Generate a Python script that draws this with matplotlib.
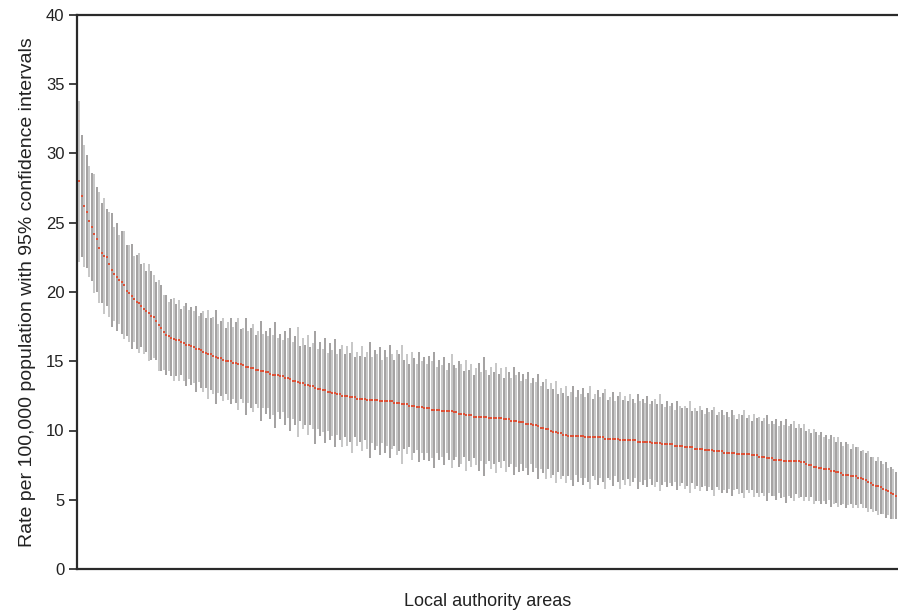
import matplotlib
matplotlib.use("Agg")
import matplotlib.pyplot as plt
import numpy as np

# rates per 100,000, local authorities sorted high -> low
rates = [
    28.0, 26.9, 26.2, 25.8, 25.1, 24.7, 24.2, 23.8, 23.2, 22.8,
    22.6, 22.5, 22.0, 21.6, 21.3, 21.1, 20.9, 20.7, 20.5, 20.1,
    19.9, 19.7, 19.5, 19.3, 19.2, 19.0, 18.8, 18.6, 18.5, 18.3,
    18.2, 17.9, 17.6, 17.4, 17.1, 16.9, 16.8, 16.7, 16.6, 16.5,
    16.5, 16.4, 16.3, 16.2, 16.2, 16.1, 16.0, 15.9, 15.9, 15.8,
    15.7, 15.6, 15.5, 15.5, 15.4, 15.3, 15.2, 15.2, 15.1, 15.0,
    15.0, 15.0, 14.9, 14.9, 14.8, 14.8, 14.7, 14.6, 14.6, 14.5,
    14.5, 14.4, 14.4, 14.3, 14.3, 14.2, 14.2, 14.1, 14.0, 14.0,
    14.0, 13.9, 13.9, 13.8, 13.8, 13.7, 13.6, 13.6, 13.5, 13.4,
    13.4, 13.3, 13.3, 13.2, 13.2, 13.1, 13.0, 13.0, 12.9, 12.9,
    12.8, 12.8, 12.7, 12.7, 12.6, 12.6, 12.5, 12.5, 12.5, 12.4,
    12.4, 12.4, 12.3, 12.3, 12.3, 12.3, 12.2, 12.2, 12.2, 12.2,
    12.2, 12.1, 12.1, 12.1, 12.1, 12.1, 12.1, 12.0, 12.0, 12.0,
    11.9, 11.9, 11.9, 11.8, 11.8, 11.8, 11.7, 11.7, 11.7, 11.6,
    11.6, 11.6, 11.5, 11.5, 11.5, 11.5, 11.4, 11.4, 11.4, 11.4,
    11.4, 11.3, 11.3, 11.2, 11.2, 11.2, 11.1, 11.1, 11.1, 11.0,
    11.0, 11.0, 11.0, 11.0, 11.0, 10.9, 10.9, 10.9, 10.9, 10.9,
    10.9, 10.8, 10.8, 10.8, 10.7, 10.7, 10.7, 10.6, 10.6, 10.6,
    10.5, 10.5, 10.5, 10.4, 10.4, 10.3, 10.2, 10.2, 10.1, 10.1,
    10.0, 9.9, 9.9, 9.8, 9.8, 9.7, 9.7, 9.6, 9.6, 9.6,
    9.6, 9.6, 9.6, 9.6, 9.5, 9.5, 9.5, 9.5, 9.5, 9.5,
    9.5, 9.5, 9.4, 9.4, 9.4, 9.4, 9.4, 9.4, 9.3, 9.3,
    9.3, 9.3, 9.3, 9.3, 9.3, 9.2, 9.2, 9.2, 9.2, 9.2,
    9.2, 9.1, 9.1, 9.1, 9.1, 9.0, 9.0, 9.0, 9.0, 9.0,
    8.9, 8.9, 8.9, 8.9, 8.8, 8.8, 8.8, 8.8, 8.7, 8.7,
    8.7, 8.7, 8.6, 8.6, 8.6, 8.6, 8.5, 8.5, 8.5, 8.5,
    8.4, 8.4, 8.4, 8.4, 8.4, 8.3, 8.3, 8.3, 8.3, 8.3,
    8.3, 8.2, 8.2, 8.2, 8.1, 8.1, 8.1, 8.0, 8.0, 8.0,
    7.9, 7.9, 7.9, 7.9, 7.8, 7.8, 7.8, 7.8, 7.8, 7.8,
    7.8, 7.7, 7.7, 7.6, 7.5, 7.5, 7.4, 7.4, 7.3, 7.3,
    7.2, 7.2, 7.2, 7.1, 7.1, 7.0, 7.0, 6.9, 6.8, 6.8,
    6.8, 6.7, 6.7, 6.7, 6.6, 6.6, 6.5, 6.4, 6.3, 6.2,
    6.1, 6.0, 6.0, 5.9, 5.8, 5.7, 5.6, 5.5, 5.4, 5.3,
]

# half width of the 95% confidence interval for each area
ci_half = [
    5.8, 4.4, 4.4, 4.1, 4.0, 3.9, 4.3, 3.8, 4.0, 3.6,
    4.2, 3.5, 3.8, 4.1, 3.4, 3.9, 3.2, 3.7, 3.9, 3.3,
    3.5, 3.8, 3.1, 3.4, 3.6, 3.0, 3.3, 2.9, 3.5, 3.2,
    3.0, 2.8, 3.3, 3.1, 2.7, 2.9, 2.5, 2.8, 3.0, 2.6,
    2.9, 2.4, 2.7, 3.0, 2.5, 2.8, 2.6, 3.1, 2.4, 2.7,
    2.9, 2.5, 3.2, 2.6, 2.8, 3.4, 2.5, 2.7, 3.0, 2.4,
    2.8, 3.1, 2.6, 2.9, 3.3, 2.5, 2.7, 3.5, 2.6, 2.9,
    3.2, 2.5, 2.8, 3.6, 2.7, 3.0, 2.6, 3.3, 2.9, 3.8,
    2.7, 3.1, 2.6, 3.4, 2.9, 3.7, 2.8, 3.2, 4.0, 2.7,
    3.3, 2.9, 3.6, 2.8, 3.1, 4.1, 2.9, 3.4, 3.0, 3.8,
    2.8, 3.5, 3.1, 3.9, 2.9, 3.3, 3.7, 3.0, 3.6, 3.2,
    4.0, 2.9, 3.4, 3.1, 3.8, 3.0, 3.5, 4.2, 3.1, 3.6,
    3.3, 3.9, 3.0, 3.7, 3.2, 4.1, 3.4, 3.1, 3.8, 3.5,
    4.3, 3.2, 3.6, 3.0, 3.9, 3.4, 3.1, 4.0, 3.3, 3.7,
    3.2, 3.8, 3.5, 4.2, 3.1, 3.6, 3.3, 3.9, 3.0, 3.5,
    4.1, 3.4, 3.2, 3.8, 3.6, 3.1, 4.0, 3.3, 3.7, 3.0,
    3.5, 3.9, 3.2, 4.3, 3.4, 3.1, 3.7, 3.3, 4.0, 3.2,
    3.6, 3.0, 3.8, 3.4, 3.1, 3.9, 3.3, 3.6, 3.0, 3.5,
    3.2, 3.7, 2.9, 3.4, 3.1, 3.8, 3.0, 3.3, 3.6, 2.9,
    3.4, 3.1, 3.7, 2.8, 3.3, 3.0, 3.5, 2.9, 3.2, 3.6,
    2.8, 3.3, 3.0, 3.5, 2.9, 3.2, 3.7, 2.8, 3.1, 3.4,
    2.9, 3.2, 3.6, 2.8, 3.0, 3.4, 2.7, 3.1, 3.5, 2.9,
    3.2, 2.8, 3.3, 3.0, 2.7, 3.4, 2.9, 3.1, 2.8, 3.3,
    2.7, 3.0, 3.2, 2.8, 3.5, 2.9, 2.7, 3.1, 2.8, 3.0,
    2.6, 3.2, 2.9, 2.7, 3.0, 2.8, 3.3, 2.6, 2.9, 2.7,
    3.1, 2.8, 2.6, 3.0, 2.7, 2.9, 3.2, 2.6, 2.8, 3.0,
    2.7, 2.9, 2.6, 3.1, 2.7, 2.5, 2.9, 2.8, 3.2, 2.6,
    2.8, 2.5, 3.0, 2.7, 2.9, 2.6, 2.8, 3.1, 2.5, 2.7,
    2.6, 2.9, 2.4, 2.8, 2.6, 3.0, 2.5, 2.7, 2.9, 2.4,
    2.7, 2.5, 2.8, 2.4, 2.6, 2.3, 2.7, 2.5, 2.4, 2.6,
    2.3, 2.5, 2.2, 2.6, 2.4, 2.2, 2.5, 2.3, 2.1, 2.4,
    2.2, 2.0, 2.3, 2.1, 2.2, 1.9, 2.1, 2.0, 2.2, 1.9,
    2.0, 1.8, 2.1, 1.9, 1.8, 2.0, 1.7, 1.9, 1.8, 1.7,
]

rates = np.array(rates)
ci_half = np.array(ci_half)
x = np.arange(len(rates))
lower = rates - ci_half
upper = rates + ci_half

plt.rcParams["font.family"] = ["Liberation Sans", "DejaVu Sans"]

fig = plt.figure(figsize=(8.98, 6.15), dpi=100)
ax = fig.add_axes([77 / 898, 1 - 569 / 615, 1 - 77 / 898, (569 - 15) / 615])

bar_cols = ["#c3c3c3" if i % 2 == 0 else "#9c9a9a" for i in x]
ax.vlines(x, lower, upper, colors=bar_cols, linewidth=1.3, zorder=2)
ax.plot(x, rates, linestyle="none", marker="s", markersize=1.7,
        color="#dc5238", markeredgewidth=0, zorder=3)

ax.set_xlim(-1, len(rates))
ax.set_ylim(0, 40)
ax.set_yticks(np.arange(0, 41, 5))
ax.set_xticks([])
ax.tick_params(axis="y", direction="out", length=6, width=1.2, colors="#222222",
               labelsize=12, pad=3)

for side in ["left", "bottom", "top"]:
    ax.spines[side].set_linewidth(1.6)
    ax.spines[side].set_color("#2a2a2a")
ax.spines["right"].set_visible(False)

ax.set_ylabel("Rate per 100,000 population with 95% confidence intervals",
              fontsize=14, color="#222222", labelpad=7)
ax.set_xlabel("Local authority areas", fontsize=13, color="#222222", labelpad=17)

fig.savefig("out.png", dpi=100, facecolor="white")
